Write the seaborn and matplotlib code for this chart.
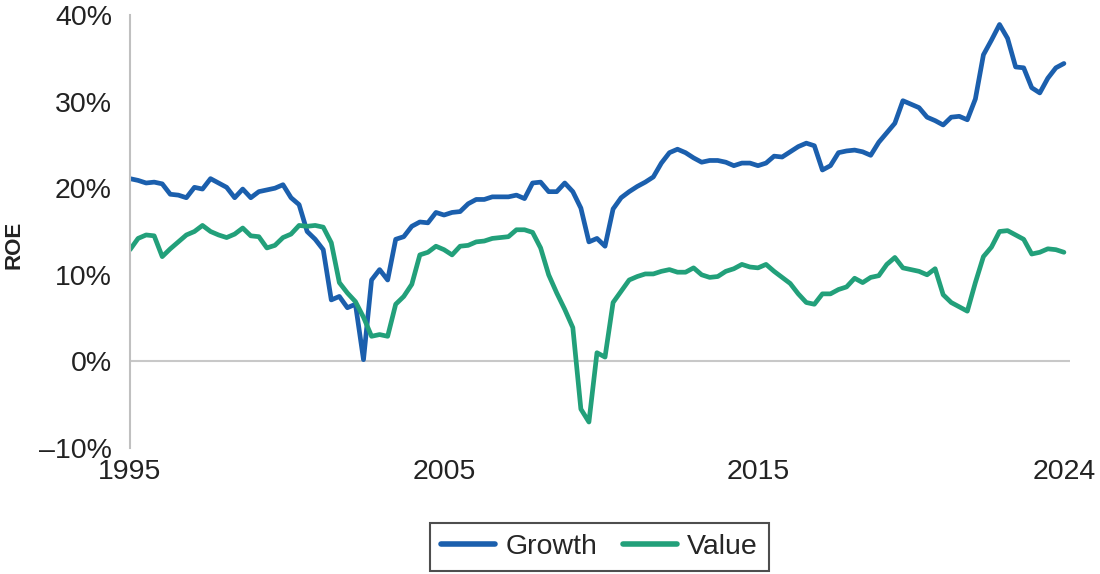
import numpy as np
import pandas as pd
import matplotlib
matplotlib.use("Agg")
import matplotlib.pyplot as plt
import seaborn as sns

# quarterly ROE (%)
growth = [21.1, 20.9, 20.6, 20.7, 20.5, 19.3, 19.2, 18.9, 20.1, 19.9,
          21.1, 20.6, 20.1, 18.9, 19.9, 18.9, 19.6, 19.8, 20.0, 20.4,
          18.9, 18.1, 15.0, 14.1, 12.9, 7.1, 7.5, 6.2, 6.6, 0.2,
          9.4, 10.6, 9.4, 14.1, 14.4, 15.6, 16.1, 16.0, 17.2, 16.9,
          17.2, 17.3, 18.2, 18.7, 18.7, 19.0, 19.0, 19.0, 19.2, 18.8,
          20.6, 20.7, 19.6, 19.6, 20.6, 19.6, 17.7, 13.8, 14.2, 13.3,
          17.6, 18.9, 19.6, 20.2, 20.7, 21.3, 22.9, 24.1, 24.5, 24.1,
          23.5, 23.0, 23.2, 23.2, 23.0, 22.6, 22.9, 22.9, 22.6, 22.9,
          23.7, 23.6, 24.2, 24.8, 25.2, 24.9, 22.1, 22.6, 24.1, 24.3,
          24.4, 24.2, 23.8, 25.3, 26.4, 27.5, 30.1, 29.7, 29.3, 28.2,
          27.8, 27.3, 28.2, 28.3, 27.9, 30.3, 35.4, 37.1, 38.9, 37.3,
          34.0, 33.9, 31.6, 31.0, 32.7, 33.9, 34.4]

value = [12.9, 14.2, 14.6, 14.5, 12.1, 13.0, 13.8, 14.6, 15.0, 15.7,
         15.0, 14.6, 14.3, 14.7, 15.4, 14.5, 14.4, 13.1, 13.4, 14.3,
         14.7, 15.7, 15.6, 15.7, 15.5, 13.7, 9.1, 7.9, 6.9, 5.1,
         2.9, 3.1, 2.9, 6.6, 7.5, 8.9, 12.3, 12.6, 13.3, 12.9,
         12.3, 13.3, 13.4, 13.8, 13.9, 14.2, 14.3, 14.4, 15.2, 15.2,
         14.9, 13.1, 10.0, 7.9, 6.0, 3.9, -5.5, -7.0, 1.0, 0.5,
         6.8, 8.1, 9.4, 9.8, 10.1, 10.1, 10.4, 10.6, 10.3, 10.3,
         10.8, 10.0, 9.7, 9.8, 10.4, 10.7, 11.2, 10.9, 10.8, 11.2,
         10.4, 9.7, 9.0, 7.8, 6.8, 6.6, 7.8, 7.8, 8.3, 8.6,
         9.6, 9.1, 9.7, 9.9, 11.2, 12.0, 10.8, 10.6, 10.4, 10.0,
         10.7, 7.7, 6.8, 6.3, 5.8, 9.1, 12.1, 13.2, 15.0, 15.1,
         14.6, 14.1, 12.4, 12.6, 13.0, 12.9, 12.6]

x_labels = ["1995", "2005", "2015", "2024"]
y_ticks = [-10, 0, 10, 20, 30, 40]

n = len(growth)
q = np.arange(n)
df = pd.DataFrame({
    "quarter": np.concatenate([q, q]),
    "roe": growth + value,
    "series": ["Growth"] * n + ["Value"] * n,
})

sns.set_style("white")
plt.rcParams["font.family"] = ["Liberation Sans", "DejaVu Sans"]
plt.rcParams["lines.solid_joinstyle"] = "round"
plt.rcParams["lines.solid_capstyle"] = "round"

fig = plt.figure(figsize=(11, 5.74), dpi=100)
ax = fig.add_axes([0.1182, 0.2195, 0.8545, 0.7544])

sns.lineplot(data=df, x="quarter", y="roe", hue="series",
             palette={"Growth": "#1b5fad", "Value": "#22a07a"},
             linewidth=3.4, ax=ax)
ax.axhline(0, color="#c8c8c8", lw=1.5, zorder=0)

ax.set_xlim(0, n - 0.25)
ax.set_ylim(-10, 40)
ax.set_xticks([0, 39, 78, n - 1])
ax.set_xticklabels(x_labels)
ax.set_yticks(y_ticks)
ax.set_yticklabels([f"\u2013{-v}%" if v < 0 else f"{v}%" for v in y_ticks])
ax.tick_params(axis="both", length=0, labelsize=20.5, colors="#222222")
ax.tick_params(axis="y", pad=13)
ax.tick_params(axis="x", pad=8)

ax.set_xlabel("")
ax.set_ylabel("ROE", fontsize=16, fontweight="bold", color="#222222")
ax.yaxis.set_label_coords(-0.112, 0.47)

for s in ["top", "right", "bottom"]:
    ax.spines[s].set_visible(False)
ax.spines["left"].set_color("#c0c0c0")
ax.spines["left"].set_linewidth(1.5)

sns.move_legend(ax, "center", bbox_to_anchor=(0.545, 0.047),
                bbox_transform=fig.transFigure, ncol=2, title=None,
                frameon=True, fancybox=False, fontsize=20.5,
                handlelength=1.9, handletextpad=0.35, columnspacing=0.9,
                borderpad=0.4, edgecolor="#222222")
leg = ax.get_legend()
leg.get_frame().set_linewidth(1.5)
for h in leg.get_lines():
    h.set_linewidth(4)

fig.savefig("out.png", dpi=100)
